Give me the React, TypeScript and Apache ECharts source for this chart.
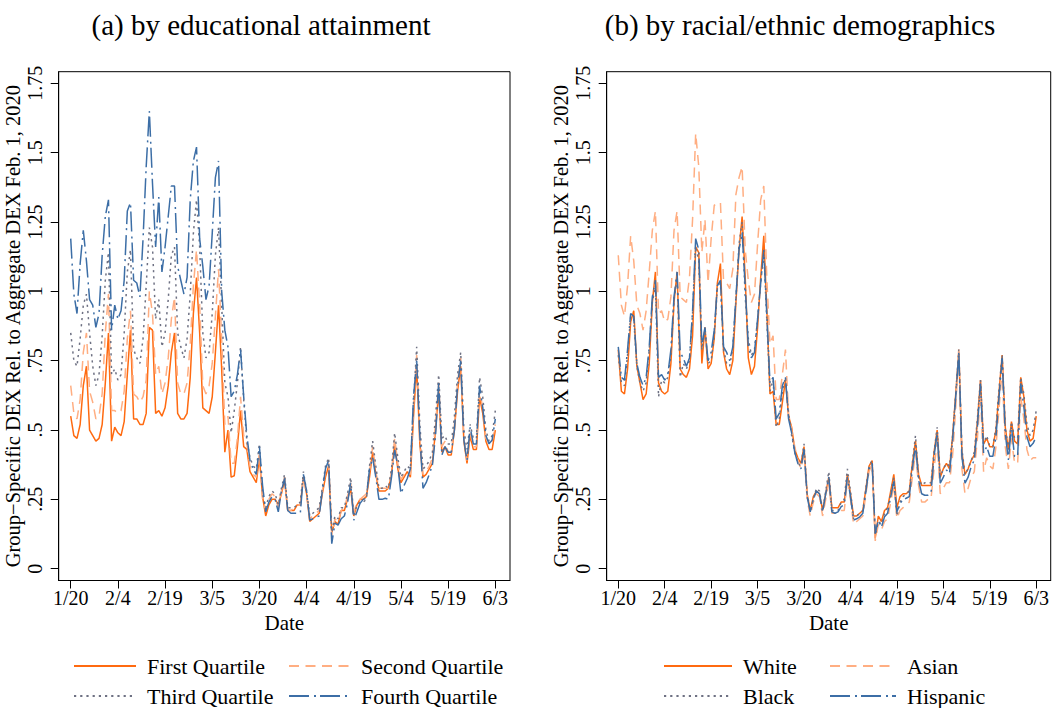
import React, { useEffect, useRef } from "react";
import * as echarts from "echarts";

// ---------- axis ticks ----------
const tickDays = [0, 15, 30, 45, 60, 75, 90, 105, 120, 135];
const tickLabels = ["1/20", "2/4", "2/19", "3/5", "3/20", "4/4", "4/19", "5/4", "5/19", "6/3"];
const yTicks = [0, 0.25, 0.5, 0.75, 1, 1.25, 1.5, 1.75];
const yTickLabels = ["0", ".25", ".5", ".75", "1", "1.25", "1.5", "1.75"];

// ---------- panel (a): daily values from 1/20 to 6/3 ----------
const firstQuartile = [
  0.55, 0.48, 0.47, 0.52, 0.66, 0.73, 0.50,
  0.48, 0.46, 0.47, 0.52, 0.67, 0.85, 0.46,
  0.51, 0.49, 0.48, 0.53, 0.70, 0.86, 0.54,
  0.54, 0.52, 0.52, 0.56, 0.87, 0.86, 0.56,
  0.57, 0.55, 0.58, 0.66, 0.78, 0.85, 0.56,
  0.54, 0.54, 0.56, 0.69, 0.92, 1.05, 0.85,
  0.58, 0.57, 0.56, 0.62, 0.78, 0.95, 0.72,
  0.42, 0.50, 0.33, 0.335, 0.44, 0.57, 0.44,
  0.43, 0.35, 0.33, 0.31, 0.40, 0.26, 0.19,
  0.23, 0.25, 0.25, 0.23, 0.27, 0.32, 0.21,
  0.21, 0.21, 0.23, 0.23, 0.33, 0.27, 0.17,
  0.18, 0.19, 0.20, 0.27, 0.33, 0.37, 0.13,
  0.17, 0.16, 0.21, 0.21, 0.25, 0.29, 0.19,
  0.23, 0.25, 0.25, 0.26, 0.33, 0.42, 0.34,
  0.28, 0.28, 0.28, 0.29, 0.34, 0.45, 0.36,
  0.31, 0.33, 0.35, 0.33, 0.55, 0.73, 0.45,
  0.33, 0.34, 0.36, 0.38, 0.50, 0.64, 0.42,
  0.44, 0.41, 0.41, 0.50, 0.64, 0.73, 0.46,
  0.38, 0.48, 0.43, 0.43, 0.62, 0.56, 0.46,
  0.43, 0.43, 0.50,
];
const secondQuartile = [
  0.66, 0.56, 0.54, 0.61, 0.78, 0.85, 0.64,
  0.60, 0.54, 0.55, 0.63, 0.85, 0.99, 0.57,
  0.57, 0.56, 0.57, 0.64, 0.83, 0.93, 0.63,
  0.62, 0.60, 0.62, 0.68, 1.00, 0.92, 0.70,
  0.73, 0.63, 0.67, 0.76, 0.90, 0.98, 0.67,
  0.63, 0.63, 0.67, 0.81, 1.02, 1.15, 0.95,
  0.66, 0.63, 0.66, 0.74, 0.91, 1.08, 0.83,
  0.52, 0.55, 0.38, 0.38, 0.47, 0.62, 0.48,
  0.45, 0.37, 0.34, 0.33, 0.42, 0.25, 0.21,
  0.25, 0.27, 0.26, 0.22, 0.28, 0.33, 0.21,
  0.21, 0.22, 0.23, 0.23, 0.33, 0.27, 0.18,
  0.19, 0.20, 0.21, 0.28, 0.35, 0.38, 0.12,
  0.18, 0.17, 0.21, 0.22, 0.26, 0.31, 0.20,
  0.24, 0.25, 0.26, 0.27, 0.35, 0.44, 0.35,
  0.29, 0.29, 0.29, 0.29, 0.35, 0.47, 0.38,
  0.32, 0.34, 0.35, 0.34, 0.58, 0.77, 0.48,
  0.34, 0.35, 0.37, 0.40, 0.52, 0.67, 0.44,
  0.46, 0.42, 0.42, 0.52, 0.67, 0.76, 0.47,
  0.39, 0.49, 0.44, 0.44, 0.64, 0.58, 0.47,
  0.45, 0.46, 0.52,
];
const thirdQuartile = [
  0.85, 0.75, 0.73, 0.83, 0.95, 0.99, 0.85,
  0.73, 0.66, 0.70, 0.84, 1.04, 1.14, 0.70,
  0.72, 0.68, 0.70, 0.85, 1.07, 1.15, 0.79,
  0.76, 0.74, 0.83, 1.02, 1.23, 1.16, 0.90,
  0.97, 0.80, 0.85, 0.97, 1.13, 1.16, 0.85,
  0.80, 0.76, 0.83, 0.99, 1.21, 1.33, 1.16,
  0.85, 0.76, 0.78, 0.92, 1.13, 1.23, 0.95,
  0.67, 0.62, 0.49, 0.57, 0.67, 0.80, 0.61,
  0.46, 0.40, 0.37, 0.36, 0.45, 0.27, 0.22,
  0.26, 0.28, 0.27, 0.23, 0.29, 0.34, 0.22,
  0.22, 0.22, 0.23, 0.24, 0.35, 0.28, 0.19,
  0.20, 0.21, 0.22, 0.29, 0.37, 0.40, 0.13,
  0.19, 0.18, 0.22, 0.22, 0.27, 0.33, 0.19,
  0.23, 0.24, 0.24, 0.25, 0.37, 0.46, 0.37,
  0.29, 0.29, 0.30, 0.29, 0.36, 0.49, 0.40,
  0.33, 0.35, 0.37, 0.36, 0.60, 0.80, 0.52,
  0.36, 0.37, 0.39, 0.42, 0.55, 0.70, 0.47,
  0.48, 0.45, 0.45, 0.55, 0.70, 0.78, 0.50,
  0.43, 0.52, 0.47, 0.47, 0.69, 0.62, 0.50,
  0.46, 0.48, 0.57,
];
const fourthQuartile = [
  1.19, 0.99, 0.92, 1.10, 1.22, 1.11, 0.97,
  0.95, 0.87, 0.92, 1.13, 1.27, 1.33, 0.86,
  0.95, 0.90, 0.93, 1.04, 1.29, 1.32, 1.04,
  1.03, 0.98, 1.19, 1.45, 1.65, 1.39, 1.16,
  1.34, 1.07, 1.16, 1.27, 1.38, 1.38, 1.09,
  1.04, 0.99, 1.05, 1.33, 1.47, 1.52, 1.19,
  1.09, 0.97, 1.02, 1.21, 1.41, 1.47, 1.00,
  0.86, 0.80, 0.62, 0.64, 0.70, 0.79, 0.62,
  0.48, 0.39, 0.36, 0.34, 0.44, 0.30, 0.205,
  0.24, 0.26, 0.25, 0.205, 0.28, 0.325, 0.21,
  0.20, 0.20, 0.20, 0.20, 0.34, 0.28, 0.175,
  0.18, 0.187, 0.19, 0.28, 0.36, 0.39, 0.09,
  0.164, 0.157, 0.18, 0.19, 0.236, 0.31, 0.175,
  0.205, 0.236, 0.25, 0.254, 0.36, 0.40, 0.33,
  0.25, 0.25, 0.254, 0.25, 0.33, 0.428, 0.37,
  0.27, 0.30, 0.325, 0.36, 0.62, 0.75, 0.48,
  0.29, 0.31, 0.34, 0.374, 0.48, 0.67, 0.41,
  0.44, 0.42, 0.42, 0.50, 0.66, 0.75, 0.464,
  0.39, 0.51, 0.45, 0.45, 0.66, 0.58, 0.48,
  0.45, 0.464, 0.54,
];

// ---------- panel (b) ----------
const white = [
  0.79, 0.64, 0.63, 0.72, 0.89, 0.93, 0.73,
  0.67, 0.61, 0.63, 0.74, 0.96, 1.07, 0.67,
  0.64, 0.63, 0.64, 0.74, 0.96, 1.07, 0.72,
  0.70, 0.69, 0.72, 0.84, 1.16, 1.14, 0.74,
  0.87, 0.72, 0.74, 0.83, 1.03, 1.10, 0.78,
  0.72, 0.70, 0.75, 0.96, 1.15, 1.27, 1.05,
  0.76, 0.70, 0.73, 0.87, 1.05, 1.20, 0.93,
  0.63, 0.64, 0.52, 0.52, 0.60, 0.68, 0.55,
  0.51, 0.43, 0.40, 0.38, 0.44, 0.27, 0.21,
  0.26, 0.28, 0.27, 0.21, 0.27, 0.33, 0.22,
  0.22, 0.22, 0.24, 0.24, 0.34, 0.27, 0.19,
  0.19, 0.20, 0.21, 0.29, 0.37, 0.39, 0.11,
  0.19, 0.17, 0.21, 0.22, 0.28, 0.34, 0.22,
  0.26, 0.27, 0.27, 0.28, 0.38, 0.46, 0.34,
  0.30, 0.30, 0.30, 0.30, 0.42, 0.50, 0.33,
  0.36, 0.38, 0.36, 0.48, 0.63, 0.78, 0.42,
  0.34, 0.36, 0.39, 0.41, 0.53, 0.68, 0.45,
  0.47, 0.44, 0.44, 0.50, 0.64, 0.77, 0.51,
  0.43, 0.53, 0.46, 0.45, 0.69, 0.62, 0.50,
  0.46, 0.47, 0.55,
];
const asian = [
  1.13, 0.95, 0.91, 1.02, 1.20, 1.11, 0.95,
  0.92, 0.86, 0.93, 1.07, 1.22, 1.29, 0.92,
  0.93, 0.89, 0.90, 0.98, 1.22, 1.29, 0.98,
  0.97, 0.96, 1.05, 1.26, 1.57, 1.45, 1.14,
  1.26, 1.03, 1.19, 1.31, 1.32, 1.32, 1.04,
  1.03, 1.01, 1.08, 1.35, 1.41, 1.45, 1.15,
  1.04, 0.96, 0.99, 1.17, 1.33, 1.38, 1.04,
  0.81, 0.84, 0.61, 0.61, 0.70, 0.79, 0.56,
  0.50, 0.44, 0.39, 0.36, 0.42, 0.25, 0.19,
  0.24, 0.27, 0.26, 0.19, 0.25, 0.31, 0.20,
  0.20, 0.20, 0.21, 0.21, 0.32, 0.25, 0.16,
  0.17, 0.18, 0.19, 0.27, 0.35, 0.38, 0.10,
  0.16, 0.14, 0.17, 0.18, 0.24, 0.30, 0.18,
  0.21, 0.22, 0.23, 0.24, 0.33, 0.42, 0.30,
  0.24, 0.24, 0.25, 0.25, 0.36, 0.46, 0.27,
  0.29, 0.31, 0.31, 0.41, 0.58, 0.80, 0.36,
  0.27, 0.29, 0.33, 0.35, 0.47, 0.63, 0.35,
  0.40, 0.37, 0.36, 0.44, 0.58, 0.72, 0.44,
  0.36, 0.47, 0.38, 0.38, 0.62, 0.54, 0.43,
  0.39, 0.40, 0.40,
];
const black = [
  0.77, 0.67, 0.66, 0.77, 0.91, 0.90, 0.73,
  0.67, 0.64, 0.67, 0.79, 0.96, 1.02, 0.62,
  0.68, 0.67, 0.69, 0.77, 0.97, 1.05, 0.69,
  0.74, 0.72, 0.75, 0.92, 1.16, 1.11, 0.79,
  0.86, 0.74, 0.75, 0.84, 1.01, 1.03, 0.79,
  0.74, 0.73, 0.80, 0.97, 1.17, 1.25, 0.98,
  0.83, 0.77, 0.79, 0.90, 1.03, 1.14, 0.89,
  0.64, 0.68, 0.51, 0.54, 0.64, 0.69, 0.56,
  0.48, 0.42, 0.38, 0.37, 0.45, 0.27, 0.21,
  0.25, 0.29, 0.28, 0.21, 0.28, 0.35, 0.21,
  0.21, 0.21, 0.24, 0.25, 0.36, 0.28, 0.18,
  0.19, 0.20, 0.21, 0.29, 0.37, 0.39, 0.12,
  0.17, 0.16, 0.20, 0.22, 0.27, 0.33, 0.19,
  0.24, 0.26, 0.27, 0.28, 0.38, 0.48, 0.33,
  0.30, 0.31, 0.31, 0.31, 0.42, 0.51, 0.33,
  0.36, 0.38, 0.37, 0.48, 0.63, 0.79, 0.43,
  0.34, 0.36, 0.39, 0.42, 0.54, 0.68, 0.45,
  0.48, 0.44, 0.44, 0.51, 0.65, 0.77, 0.51,
  0.43, 0.53, 0.47, 0.47, 0.69, 0.63, 0.52,
  0.48, 0.50, 0.57,
];
const hispanic = [
  0.80, 0.69, 0.68, 0.79, 0.92, 0.91, 0.74,
  0.69, 0.66, 0.69, 0.80, 0.98, 1.04, 0.69,
  0.70, 0.68, 0.70, 0.79, 0.98, 1.07, 0.78,
  0.76, 0.73, 0.76, 0.93, 1.19, 1.15, 0.80,
  0.87, 0.75, 0.78, 0.86, 1.02, 1.04, 0.80,
  0.78, 0.75, 0.80, 0.98, 1.15, 1.21, 1.02,
  0.80, 0.76, 0.78, 0.90, 1.03, 1.15, 0.91,
  0.67, 0.69, 0.54, 0.56, 0.66, 0.69, 0.54,
  0.49, 0.42, 0.38, 0.36, 0.43, 0.26, 0.205,
  0.25, 0.28, 0.27, 0.205, 0.27, 0.33, 0.205,
  0.20, 0.205, 0.224, 0.23, 0.33, 0.26, 0.175,
  0.18, 0.187, 0.20, 0.28, 0.36, 0.38, 0.128,
  0.175, 0.15, 0.187, 0.20, 0.26, 0.314, 0.205,
  0.235, 0.25, 0.254, 0.26, 0.36, 0.446, 0.32,
  0.27, 0.265, 0.265, 0.27, 0.405, 0.49, 0.308,
  0.33, 0.356, 0.344, 0.464, 0.62, 0.78, 0.405,
  0.308, 0.33, 0.368, 0.392, 0.512, 0.668, 0.416,
  0.44, 0.405, 0.405, 0.476, 0.62, 0.76, 0.488,
  0.392, 0.512, 0.405, 0.405, 0.668, 0.584, 0.476,
  0.44, 0.452, 0.476,
];

const Y_NAME = "Group\u2212Specific DEX Rel. to Aggregate DEX Feb. 1, 2020";
const FONT = '"Liberation Serif", "Times New Roman", serif';

const STYLES = [
  { color: "#FF6A10", type: "solid" as any },
  { color: "#FFAE82", type: [10, 6.5] },
  { color: "#6E7183", type: [2.2, 4] },
  { color: "#3C6EA6", type: [20, 5, 2, 4] },
];

function xAxisFor(gridIndex: number, min: number, max: number) {
  return {
    type: "value",
    gridIndex,
    min,
    max,
    name: "Date",
    nameLocation: "middle",
    nameGap: 28,
    nameTextStyle: { fontFamily: FONT, fontSize: 21, color: "#000" },
    axisLine: { show: true, onZero: false, lineStyle: { color: "#000", width: 1 } },
    axisTick: { show: true, length: 8, customValues: tickDays, lineStyle: { color: "#000", width: 1 } },
    axisLabel: {
      customValues: tickDays,
      formatter: (v: number) => {
        const i = tickDays.indexOf(Math.round(v));
        return i >= 0 ? tickLabels[i] : "";
      },
      fontFamily: FONT,
      fontSize: 20,
      color: "#000",
      margin: 7,
    },
    splitLine: { show: false },
  };
}

function yAxisFor(gridIndex: number) {
  return {
    type: "value",
    gridIndex,
    min: -0.0426,
    max: 1.792,
    name: Y_NAME,
    nameLocation: "middle",
    nameGap: 29,
    nameTextStyle: { fontFamily: FONT, fontSize: 20.5, color: "#000" },
    axisLine: { show: true, onZero: false, lineStyle: { color: "#000", width: 1 } },
    axisTick: { show: true, length: 8, customValues: yTicks, lineStyle: { color: "#000", width: 1 } },
    axisLabel: {
      customValues: yTicks,
      rotate: 90,
      margin: 14,
      formatter: (v: number) => {
        const i = yTicks.findIndex((t) => Math.abs(t - v) < 1e-6);
        return i >= 0 ? yTickLabels[i] : "";
      },
      fontFamily: FONT,
      fontSize: 20,
      color: "#000",
    },
    splitLine: { show: false },
  };
}

function lineSeries(name: string, values: number[], idx: number, styleIdx: number) {
  const st = STYLES[styleIdx];
  return {
    type: "line",
    name,
    xAxisIndex: idx,
    yAxisIndex: idx,
    data: values.map((v, i) => [i, v]),
    symbol: "none",
    showSymbol: false,
    lineStyle: { color: st.color, width: 1.5, type: st.type },
    itemStyle: { color: st.color },
    z: 2 + styleIdx,
  };
}

function legendFor(left: number, names: string[], itemWidth: number) {
  return {
    orient: "vertical",
    left,
    top: 655,
    padding: 0,
    itemWidth,
    itemHeight: 14,
    itemGap: 8,
    data: names,
    selectedMode: false,
    itemStyle: { opacity: 0, borderWidth: 0 },
    textStyle: { fontFamily: FONT, fontSize: 22, color: "#000", padding: [0, 0, 0, 6] },
  };
}

export default function App() {
  const ref = useRef<HTMLDivElement>(null);
  useEffect(() => {
    if (!ref.current) return;
    const chart = echarts.init(ref.current, undefined, { renderer: "svg" });
    const option: any = {
      animation: false,
      backgroundColor: "#fff",
      grid: [
        { left: 58.7, top: 71.7, width: 451.3, height: 508.8, show: true, borderColor: "#000", borderWidth: 1, containLabel: false },
        { left: 606.7, top: 71.7, width: 444.5, height: 508.8, show: true, borderColor: "#000", borderWidth: 1, containLabel: false },
      ],
      xAxis: [xAxisFor(0, -3.82, 139.67), xAxisFor(1, -3.74, 139.68)],
      yAxis: [yAxisFor(0), yAxisFor(1)],
      legend: [
        legendFor(73, ["First Quartile", "Third Quartile"], 62),
        legendFor(288, ["Second Quartile", "Fourth Quartile"], 61),
        legendFor(663, ["White", "Black"], 68),
        legendFor(829, ["Asian", "Hispanic"], 66),
      ],
      graphic: [
        { type: "text", x: 261, y: 25, style: { text: "(a) by educational attainment", font: `29px ${FONT}`, fill: "#000", textAlign: "center", textVerticalAlign: "middle" } },
        { type: "text", x: 800, y: 25, style: { text: "(b) by racial/ethnic demographics", font: `29px ${FONT}`, fill: "#000", textAlign: "center", textVerticalAlign: "middle" } },
      ],
      series: [
        lineSeries("First Quartile", firstQuartile, 0, 0),
        lineSeries("Second Quartile", secondQuartile, 0, 1),
        lineSeries("Third Quartile", thirdQuartile, 0, 2),
        lineSeries("Fourth Quartile", fourthQuartile, 0, 3),
        lineSeries("White", white, 1, 0),
        lineSeries("Asian", asian, 1, 1),
        lineSeries("Black", black, 1, 2),
        lineSeries("Hispanic", hispanic, 1, 3),
      ],
    };
    chart.setOption(option);
    return () => chart.dispose();
  }, []);
  return (
    <div
      ref={ref}
      style={{ position: "absolute", left: 0, top: 0, width: 1052, height: 708, background: "#fff" }}
    />
  );
}
